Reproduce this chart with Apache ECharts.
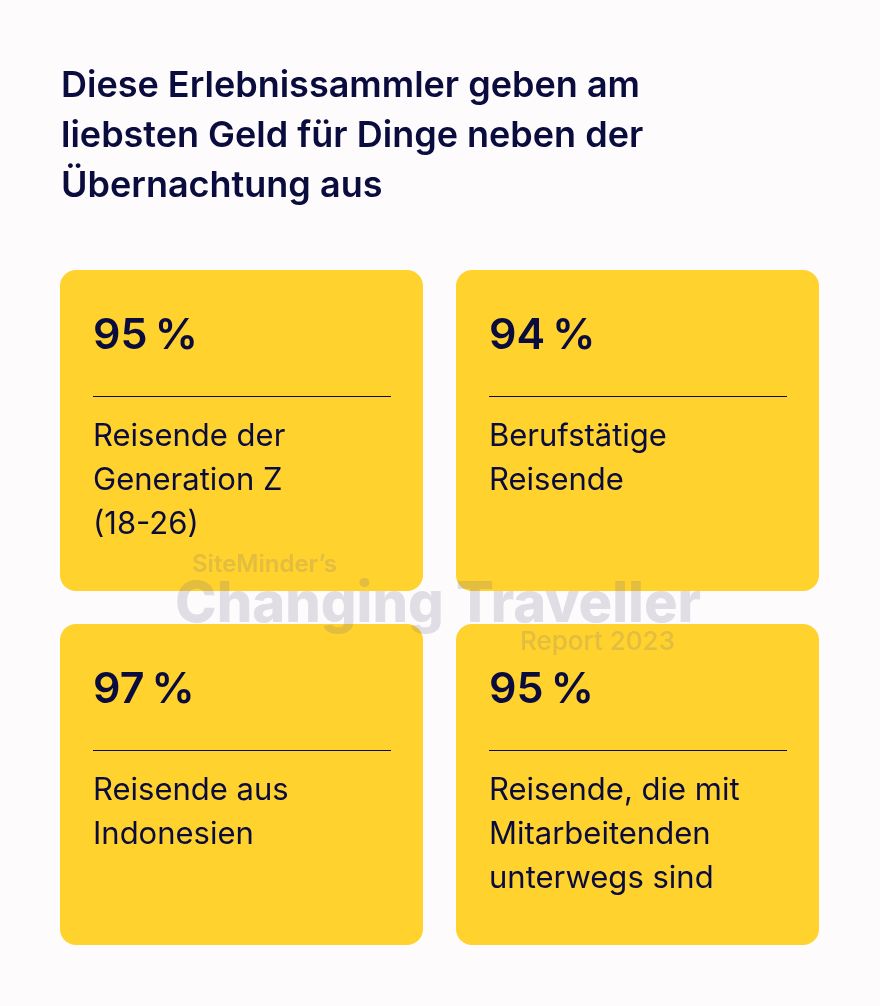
<!DOCTYPE html>
<html>
<head>
<meta charset="utf-8">
<style>
html,body{margin:0;padding:0;background:#fdfbfc;}
#chart{width:880px;height:1006px;}
</style>
<script src="https://cdn.jsdelivr.net/npm/echarts@6/dist/echarts.min.js"></script>
</head>
<body>
<div id="chart"></div>
<script>
const titleText = 'Diese Erlebnissammler geben am\nliebsten Geld für Dinge neben der\nÜbernachtung aus';
const columns = ['links', 'rechts'];
const rows = ['oben', 'unten'];
const values = [95, 94, 97, 95];
const labels = [
  'Reisende der\nGeneration Z\n(18-26)',
  'Berufstätige\nReisende',
  'Reisende aus\nIndonesien',
  'Reisende, die mit\nMitarbeitenden\nunterwegs sind'
];
const cardColumn = [0, 1, 0, 1];
const cardRow = [0, 0, 1, 1];

const NAVY = '#0b0c3e';
const YELLOW = '#ffd22d';
const FONT = 'Inter, "Noto Sans", sans-serif';
const WM = 'rgba(110,105,140,0.2)';

const seriesData = values.map((v, i) => [cardColumn[i], cardRow[i], v, i]);

const chart = echarts.init(document.getElementById('chart'), null, {renderer: 'canvas'});
chart.setOption({
  backgroundColor: '#fdfbfc',
  animation: false,
  title: {
    text: titleText,
    left: 61,
    top: 61,
    padding: 0,
    textStyle: {
      color: NAVY,
      fontFamily: FONT,
      fontSize: 36,
      fontWeight: 600,
      lineHeight: 50
    }
  },
  grid: {left: 43.5, top: 253.5, width: 792, height: 708},
  xAxis: {type: 'category', data: columns, show: false},
  yAxis: {type: 'category', data: rows, inverse: true, show: false},
  series: [{
    type: 'custom',
    data: seriesData,
    renderItem: function (params, api) {
      const c = api.coord([api.value(0), api.value(1)]);
      const s = api.size([1, 1]);
      const w = s[0] - 33, h = s[1] - 33;
      const x0 = c[0] - w / 2, y0 = c[1] - h / 2;
      const idx = api.value(3);
      return {
        type: 'group',
        children: [
          {type: 'rect', shape: {x: x0, y: y0, width: w, height: h, r: 16}, style: {fill: YELLOW}},
          {type: 'text', style: {x: x0 + 33, y: y0 + 66, text: api.value(2) + '\u2009%', fill: NAVY,
            font: '600 43px ' + FONT, verticalAlign: 'middle', align: 'left'}},
          {type: 'line', shape: {x1: x0 + 33, y1: y0 + 126.5, x2: x0 + 331, y2: y0 + 126.5},
            style: {stroke: NAVY, lineWidth: 1}},
          {type: 'text', style: {x: x0 + 33, y: y0 + 145, text: labels[idx], fill: NAVY,
            font: '400 31px ' + FONT, lineHeight: 44, verticalAlign: 'top', align: 'left'}}
        ]
      };
    }
  }],
  graphic: [
    {type: 'text', z: 100, left: 192, top: 553, style: {text: 'SiteMinder\u2019s', fill: WM,
      font: '600 24px ' + FONT}},
    {type: 'text', z: 100, left: 175, top: 577, style: {text: 'Changing Traveller', fill: WM,
      font: '800 56px ' + FONT}},
    {type: 'text', z: 100, left: 520, top: 629, style: {text: 'Report 2023', fill: WM,
      font: '500 26px ' + FONT}}
  ]
});
</script>
</body>
</html>
